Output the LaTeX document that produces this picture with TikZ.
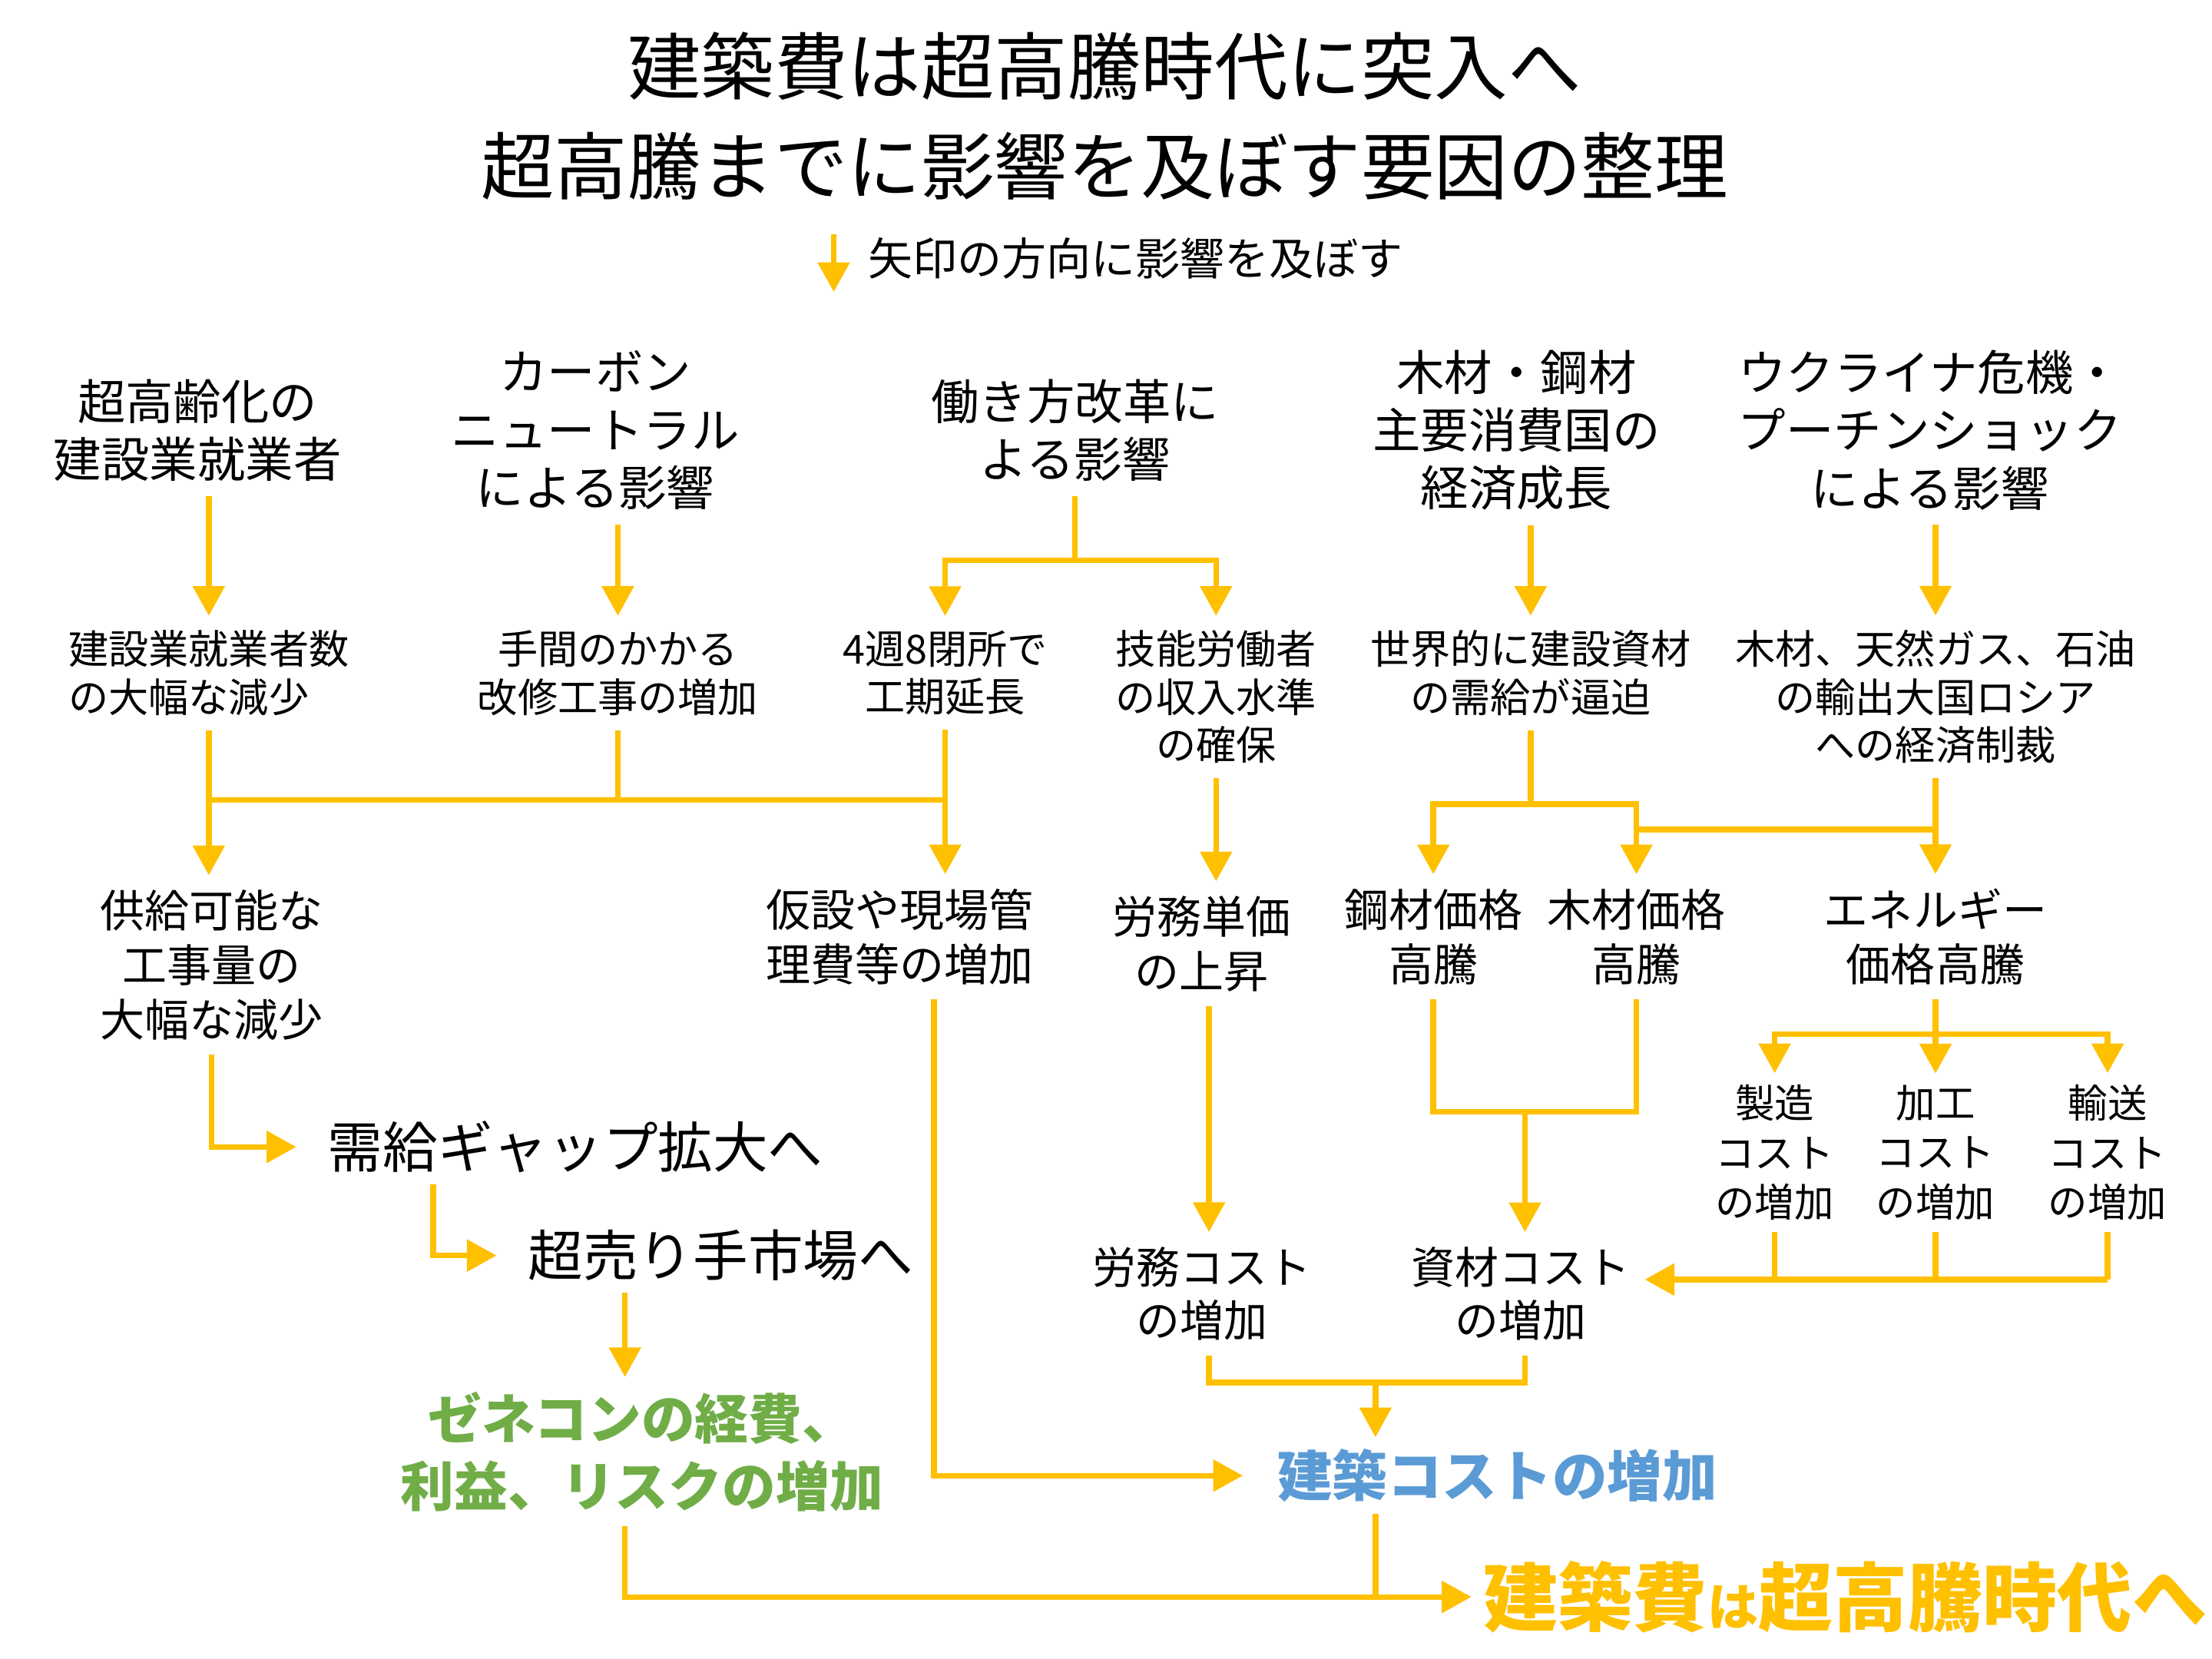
\documentclass[tikz,border=0pt]{standalone}
\usepackage{fontspec}
\setmainfont{Noto Sans CJK JP}
\usetikzlibrary{arrows.meta}
\definecolor{lineColor}{RGB}{255,192,0}
\definecolor{greenColor}{RGB}{112,173,71}
\definecolor{blueColor}{RGB}{91,155,213}
\tikzset{
  link/.style={draw=lineColor,line width=2pt},
  flow/.style={link,-{Triangle[width=11pt,length=10.5pt]}},
  title/.style={inner sep=2pt,font=\fontsize{26}{31}\selectfont},
  legend/.style={inner sep=2pt,font=\fontsize{15.8}{19}\selectfont},
  cause/.style={align=center,inner sep=5pt,font=\fontsize{17}{20.5}\selectfont},
  effect/.style={align=center,inner sep=5pt,font=\fontsize{14.2}{17}\selectfont},
  price/.style={align=center,inner sep=5pt,font=\fontsize{15.8}{19.3}\selectfont},
  small/.style={align=center,inner sep=4pt,font=\fontsize{14}{17.5}\selectfont},
  outcome/.style={inner sep=4pt,inner xsep=11pt,font=\fontsize{19.5}{23}\selectfont},
  costbox/.style={align=center,inner sep=5pt,font=\fontsize{15.5}{19}\selectfont},
}
\begin{document}
\begin{tikzpicture}[x=0.5pt,y=-0.5pt]
\path[use as bounding box,fill=white] (0,0) rectangle (1568,1176);

% title and legend
\node[title] (title1) at (783,47) {建築費は超高騰時代に突入へ};
\node[title] (title2) at (783,118) {超高騰までに影響を及ぼす要因の整理};
\node[legend,anchor=west] (legend) at (611,183) {矢印の方向に影響を及ぼす};
\coordinate (legTop) at (591,166);
\coordinate (legEnd) at (591,207);
\draw[flow] (legTop) -- (legEnd);

% first row
\node[cause] (aged) at (140,305) {超高齢化の\\建設業就業者};
\node[cause] (carbon) at (422,305) {カーボン\\ニュートラル\\による影響};
\node[cause] (reform) at (762,305) {働き方改革に\\よる影響};
\node[cause] (growth) at (1075,305) {木材・鋼材\\主要消費国の\\経済成長};
\node[cause] (ukraine) at (1368,305) {ウクライナ危機・\\プーチンショック\\による影響};

% second row
\node[effect,align=left] (workers) at (148,477) {建設業就業者数\\の大幅な減少};
\node[effect] (repair) at (438,477) {手間のかかる\\改修工事の増加};
\node[effect] (closure) at (670,477) {4週8閉所で\\工期延長};
\node[effect] (income) at (862,494) {技能労働者\\の収入水準\\の確保};
\node[effect] (supply) at (1085,477) {世界的に建設資材\\の需給が逼迫};
\node[effect] (sanction) at (1372,494) {木材、天然ガス、石油\\の輸出大国ロシア\\への経済制裁};

% third row
\node[price] (volume) at (150,684) {供給可能な\\工事量の\\大幅な減少};
\node[price] (sitecost) at (638,664) {仮設や現場管\\理費等の増加};
\node[price] (wage) at (852,669) {労務単価\\の上昇};
\node[price] (steel) at (1016,664) {鋼材価格\\高騰};
\node[price] (wood) at (1160,664) {木材価格\\高騰};
\node[price] (energy) at (1372,664) {エネルギー\\価格高騰};

\node[small] (make) at (1258,817) {製造\\コスト\\の増加};
\node[small] (process) at (1372,817) {加工\\コスト\\の増加};
\node[small] (ship) at (1494,817) {輸送\\コスト\\の増加};

\node[costbox] (labor) at (852,917) {労務コスト\\の増加};
\node[costbox] (material) at (1078,917) {資材コスト\\の増加};

\node[outcome,anchor=west] (gap) at (210,813) {需給ギャップ拡大へ};
\node[outcome,anchor=west] (market) at (352,890) {超売り手市場へ};
\node[align=center,inner sep=5pt,text=greenColor,font=\fontsize{19}{24}\selectfont\bfseries]
  (genecon) at (455,1029) {ゼネコンの経費、\\利益、リスクの増加};
\node[outcome,anchor=west,inner xsep=12pt,text=blueColor,font=\fontsize{19.5}{23}\selectfont\bfseries]
  (cost) at (881,1046) {建築コストの増加};
\node[anchor=west,inner sep=4pt,text=lineColor,font=\fontsize{26.5}{31}\selectfont\bfseries]
  (final) at (1043,1132) {建築費{\fontsize{18}{20}\selectfont は}超高騰時代へ};

% join levels
\coordinate (reformJoin) at (762,397);
\coordinate (shortJoin) at (0,567);
\coordinate (supplyJoin) at (0,570);
\coordinate (sanctionJoin) at (0,588);
\coordinate (energyJoin) at (0,733);
\coordinate (priceJoin) at (0,788);
\coordinate (procJoin) at (0,907);
\coordinate (costJoin) at (975,980);
\coordinate (siteDrop) at (662,0);
\coordinate (wageDrop) at (857,0);
\coordinate (matDrop) at (1081,0);
\coordinate (gapDrop) at (307,0);
\coordinate (genDrop) at (443,0);

% connectors
\draw[flow] (aged.south -| workers.north) -- (workers.north);
\draw[flow] (carbon.south -| repair.north) -- (repair.north);
\draw[link] (reform.south) -- (reformJoin);
\draw[flow] (reformJoin) -| (closure.north);
\draw[flow] (reformJoin) -| (income.north);
\draw[flow] (growth.south -| supply.north) -- (supply.north);
\draw[flow] (ukraine.south -| sanction.north) -- (sanction.north);

\draw[link] (workers.south) -- (workers.south |- shortJoin);
\draw[link] (repair.south) -- (repair.south |- shortJoin);
\draw[link] (workers.south |- shortJoin) -- (closure.south |- shortJoin);
\draw[flow] (workers.south) -- (workers.south |- volume.north);
\draw[flow] (closure.south) -- (closure.south |- sitecost.north);
\draw[flow] (income.south) -- (income.south |- wage.north);

\draw[link] (supply.south) -- (supply.south |- supplyJoin);
\draw[flow] (supply.south |- supplyJoin) -| (steel.north);
\draw[flow] (supply.south |- supplyJoin) -| (wood.north);
\draw[flow] (sanction.south) -- (sanction.south |- energy.north);
\draw[link] (sanction.south |- sanctionJoin) -- (wood.north |- sanctionJoin);

\draw[link] (energy.south) -- (energy.south |- energyJoin);
\draw[flow] (energy.south |- energyJoin) -| (make.north);
\draw[flow] (energy.south |- energyJoin) -- (process.north);
\draw[flow] (energy.south |- energyJoin) -| (ship.north);

\draw[link] (steel.south) |- (wood.south |- priceJoin) -- (wood.south);
\draw[flow] (matDrop |- priceJoin) -- (matDrop |- material.north);
\draw[flow] (wage.south -| wageDrop) -- (labor.north -| wageDrop);

\draw[link] (make.south) -- (make.south |- procJoin);
\draw[link] (process.south) -- (process.south |- procJoin);
\draw[link] (ship.south) -- (ship.south |- procJoin);
\draw[flow] (ship.south |- procJoin) -- (material.east |- procJoin);

\draw[link] (labor.south -| wageDrop) |- (matDrop |- costJoin) -- (material.south -| matDrop);
\draw[flow] (costJoin) -- (costJoin |- cost.north);
\draw[flow] (sitecost.south -| siteDrop) |- (cost.west);

\draw[flow] (volume.south) |- (gap.west);
\draw[flow] (gap.south -| gapDrop) |- (market.west);
\draw[flow] (market.south -| genDrop) -- (genecon.north -| genDrop);
\draw[flow] (genecon.south -| genDrop) |- (final.west);
\draw[link] (cost.south -| costJoin) -- (costJoin |- final.west);
\end{tikzpicture}
\end{document}
